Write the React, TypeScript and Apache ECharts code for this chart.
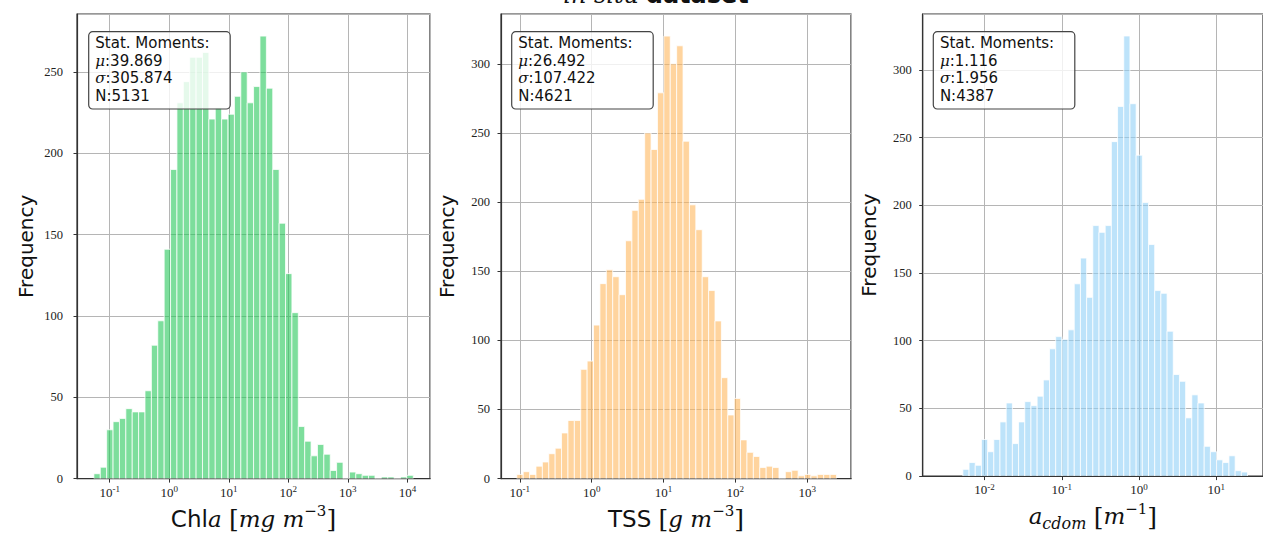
import React, { useEffect, useRef } from "react";
import * as echarts from "echarts";

// ---- histogram counts ----
const chlaCounts = [3, 7, 30, 35, 37, 43, 41, 41, 54, 82, 97, 141, 190, 231, 244, 259, 259, 262, 221, 228, 221, 224, 235, 250, 231, 241, 272, 240, 190, 157, 126, 102, 32, 23, 14, 21, 15, 5, 10, 0, 4, 3, 2, 2, 0, 1, 1, 0, 1, 2];
const tssCounts = [3, 5, 3, 9, 12, 18, 22, 33, 42, 42, 79, 85, 111, 141, 151, 146, 133, 172, 194, 202, 250, 238, 279, 320, 300, 313, 244, 198, 180, 146, 136, 114, 73, 46, 58, 28, 19, 16, 8, 9, 8, 0, 5, 6, 2, 3, 2, 3, 3, 3];
const cdomCounts = [5, 10, 8, 27, 18, 27, 40, 54, 24, 40, 55, 52, 59, 71, 94, 103, 101, 108, 142, 161, 132, 185, 180, 185, 247, 273, 325, 275, 237, 202, 171, 137, 135, 107, 75, 70, 43, 60, 54, 22, 18, 12, 10, 15, 4, 3];

// log-spaced bins: log10 of first edge and bin width in decades
const binLogStart = [-1.266, -1.042, -2.28];
const binLogStep = [0.1073, 0.089, 0.0801];

// axis ranges (log10 for x)
const xLogMin = [-1.55, -1.262, -2.8];
const xLogMax = [4.38, 3.61, 1.605];
const yMax = [285.6, 336, 341.25];

// texts
const statMu = ["39.869", "26.492", "1.116"];
const statSigma = ["305.874", "107.422", "1.956"];
const statN = ["5131", "4621", "4387"];
const xNames = [
  "{s|Chl}{i|a} {r|[}{i|mg m}{p|−3}{r|]}",
  "{s|TSS} {r|[}{i|g m}{p|−3}{r|]}",
  "{i|a}{b|cdom} {r|[}{i|m}{p|−1}{r|]}",
];
const barColors = ["rgba(38,200,90,0.6)", "rgba(255,183,93,0.6)", "rgba(145,208,247,0.6)"];

// layout
const gridLeft = [77, 501, 922.7];
const gridWidth = [353, 350, 351.7];
const gridTop = 14;
const gridHeight = 471.7;

function histData(counts: number[], start: number, step: number) {
  return counts.map((c, i) => [
    Math.pow(10, start + i * step),
    Math.pow(10, start + (i + 1) * step),
    c,
  ]);
}

const allCounts = [chlaCounts, tssCounts, cdomCounts];

const tickRich = {
  b: { fontFamily: "Liberation Serif", fontSize: 13, lineHeight: 15, color: "#222" },
  s: { fontFamily: "Liberation Serif", fontSize: 9, lineHeight: 9, verticalAlign: "top", color: "#222" },
};

const nameRich = {
  s: { fontFamily: "DejaVu Sans", fontSize: 23, lineHeight: 30, color: "#111" },
  i: { fontFamily: "DejaVu Serif", fontStyle: "italic", fontSize: 23, lineHeight: 30, color: "#111" },
  r: { fontFamily: "DejaVu Serif", fontSize: 25, lineHeight: 30, color: "#111" },
  p: { fontFamily: "DejaVu Serif", fontSize: 15, lineHeight: 15, verticalAlign: "top", color: "#111" },
  b: { fontFamily: "DejaVu Serif", fontStyle: "italic", fontSize: 16, lineHeight: 15, verticalAlign: "bottom", color: "#111" },
};

function buildOption() {
  const grids = [0, 1, 2].map((k) => ({
    left: gridLeft[k],
    top: gridTop,
    width: gridWidth[k],
    height: gridHeight,
    show: true,
    borderColor: "#333",
    borderWidth: 1.2,
    backgroundColor: "transparent",
  }));
  const xAxes = [0, 1, 2].map((k) => ({
    type: "log",
    logBase: 10,
    gridIndex: k,
    min: Math.pow(10, xLogMin[k]),
    max: Math.pow(10, xLogMax[k]),
    axisLine: { show: true, onZero: false, lineStyle: { color: "#333", width: 1.2 } },
    axisTick: { show: true, length: 4, lineStyle: { color: "#333" } },
    axisLabel: {
      showMinLabel: false,
      showMaxLabel: false,
      margin: 6,
      formatter: (v: number) => {
        const e = Math.round(Math.log10(v));
        return `{b|10}{s|${e}}`;
      },
      rich: tickRich,
    },
    splitLine: { show: true, lineStyle: { color: "#b5b5b5", width: 1 } },
    name: xNames[k],
    nameLocation: "middle",
    nameGap: 23,
    nameTextStyle: { rich: nameRich, fontFamily: "DejaVu Sans", fontSize: 23, color: "#111" },
  }));
  const yAxes = [0, 1, 2].map((k) => ({
    type: "value",
    gridIndex: k,
    min: 0,
    max: yMax[k],
    interval: 50,
    axisLine: { show: true, lineStyle: { color: "#333", width: 1.2 } },
    axisTick: { show: true, length: 3.5, lineStyle: { color: "#333" } },
    axisLabel: {
      showMaxLabel: false,
      margin: k === 0 ? 14 : 11,
      fontFamily: "Liberation Serif",
      fontSize: 12.5,
      color: "#222",
    },
    splitLine: { show: true, lineStyle: { color: "#b5b5b5", width: 1 } },
    name: "Frequency",
    nameLocation: "middle",
    nameGap: k === 0 ? 41 : 44,
    nameTextStyle: { fontFamily: "DejaVu Sans", fontSize: 20, color: "#111" },
  }));
  const series = [0, 1, 2].map((k) => ({
    type: "custom",
    xAxisIndex: k,
    yAxisIndex: k,
    clip: true,
    encode: { x: [0, 1], y: 2 },
    data: histData(allCounts[k], binLogStart[k], binLogStep[k]),
    renderItem: (params: any, api: any) => {
      const a = api.coord([api.value(0), api.value(2)]);
      const b = api.coord([api.value(1), 0]);
      return {
        type: "rect",
        shape: { x: a[0], y: a[1], width: b[0] - a[0], height: b[1] - a[1] },
        style: { fill: barColors[k], stroke: "rgba(255,255,255,0.85)", lineWidth: 0.9 },
      };
    },
  }));

  const boxX = [88.7, 511.7, 933.3];
  const graphic: any[] = [
    {
      type: "text",
      x: 656,
      y: 9,
      z: 100,
      style: {
        text: "{i|in situ} {b|dataset}",
        align: "center",
        verticalAlign: "bottom",
        fill: "#111",
        fontSize: 24,
        rich: {
          i: { fontFamily: "DejaVu Serif", fontStyle: "italic", fontSize: 24, lineHeight: 28, fill: "#111" },
          b: { fontFamily: "DejaVu Sans", fontWeight: "bold", fontSize: 24, lineHeight: 28, fill: "#111" },
        },
      },
    },
  ];
  [0, 1, 2].forEach((k) => {
    graphic.push({
      type: "rect",
      x: boxX[k],
      y: 31.7,
      z: 100,
      shape: { width: 141.5, height: 77.3, r: 4 },
      style: { fill: "rgba(255,255,255,0.8)", stroke: "#444", lineWidth: 1.2 },
    });
    graphic.push({
      type: "text",
      x: boxX[k] + 6.6,
      y: 34.5,
      z: 101,
      style: {
        text: `Stat. Moments:\n{m|μ}:${statMu[k]}\n{m|σ}:${statSigma[k]}\nN:${statN[k]}`,
        fontFamily: "DejaVu Sans",
        fontSize: 15,
        lineHeight: 17.5,
        fill: "#111",
        align: "left",
        verticalAlign: "top",
        rich: {
          m: { fontFamily: "DejaVu Serif", fontStyle: "italic", fontSize: 15, lineHeight: 17.5, fill: "#111" },
        },
      },
    });
  });

  return {
    animation: false,
    backgroundColor: "#ffffff",
    grid: grids,
    xAxis: xAxes,
    yAxis: yAxes,
    series,
    graphic,
  };
}

export default function App() {
  const ref = useRef<HTMLDivElement>(null);
  useEffect(() => {
    const chart = echarts.init(ref.current!, null, { renderer: "svg" });
    chart.setOption(buildOption() as any);
    return () => chart.dispose();
  }, []);
  return (
    <div
      ref={ref}
      style={{ position: "absolute", left: 0, top: 0, width: 1263, height: 536, overflow: "hidden", background: "#fff" }}
    />
  );
}
